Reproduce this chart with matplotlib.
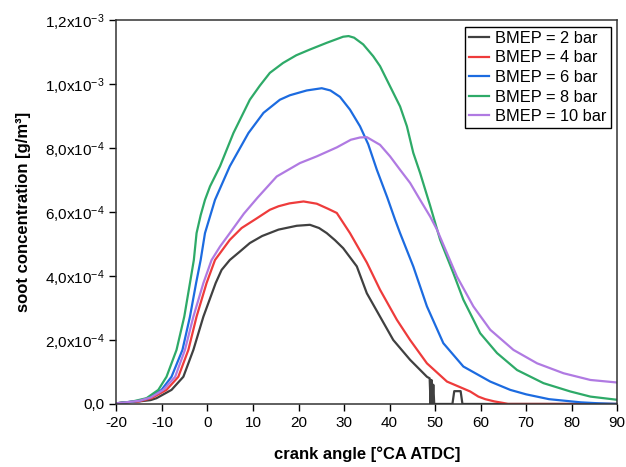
import matplotlib
matplotlib.use('Agg')
import matplotlib.pyplot as plt

plt.rcParams['font.family'] = ['Liberation Sans', 'DejaVu Sans']
plt.rcParams['mathtext.default'] = 'regular'
plt.rcParams['axes.unicode_minus'] = False

# crank angle [deg] and soot [1e-4 g/m3]
x_2 = [-20, -18, -15, -12.5, -11.2, -7.9, -5.3, -3.1, -0.9, 1.8, 3.1, 4.9, 7, 9.3, 12,
       15.6, 19.6, 22.5, 24.5, 26.2, 28, 29.8, 32.8, 35.0, 37.9, 40.8, 44.5, 48.2, 48.8,
       49.0, 49.2, 49.4, 49.6, 49.8, 53.8, 54.2, 55.6, 56.0, 90]
y_2 = [0.02, 0.05, 0.08, 0.12, 0.18, 0.44, 0.85, 1.69, 2.73, 3.78, 4.19, 4.5, 4.75, 5.03, 5.25,
       5.45, 5.57, 5.6, 5.5, 5.34, 5.12, 4.87, 4.3, 3.46, 2.73, 2.0, 1.38, 0.85, 0.8,
       0.0, 0.75, 0.0, 0.6, 0.0, 0.0, 0.4, 0.4, 0.0, 0.0]

x_4 = [-20, -18, -15, -12.3, -9, -6.4, -4.2, -2.4, -0.2, 1.65, 4.9, 7.5, 10.8, 13.7, 15.6,
       18, 21.1, 24, 26.5, 28.4, 31.3, 35, 37.9, 41.6, 44.5, 48.2, 52.6, 57.7, 59.5, 61,
       63, 65, 66, 90]
y_4 = [0.02, 0.05, 0.08, 0.18, 0.44, 0.85, 1.69, 2.73, 3.78, 4.5, 5.13, 5.5, 5.8, 6.07, 6.18,
       6.27, 6.33, 6.26, 6.1, 5.97, 5.34, 4.42, 3.57, 2.63, 2.0, 1.27, 0.70, 0.39, 0.23, 0.15,
       0.08, 0.03, 0.0, 0.0]

x_6 = [-20, -18, -15, -13.1, -10.1, -7.9, -5.5, -3.85, -2.5, -1.5, -0.55, 1.65, 4.9, 9,
       12.3, 15.9, 18.1, 21.8, 25.1, 27, 29.1, 31.3, 33.5, 35.3, 37.2, 39.5, 41.2, 42.3,
       45.2, 48.2, 51.8, 56.2, 62.1, 66.5, 70, 75, 82, 86, 90]
y_6 = [0.02, 0.05, 0.1, 0.18, 0.44, 0.85, 1.69, 2.73, 3.78, 4.5, 5.34, 6.38, 7.43, 8.47,
       9.1, 9.51, 9.65, 9.8, 9.87, 9.8, 9.6, 9.2, 8.68, 8.12, 7.32, 6.45, 5.76, 5.34,
       4.3, 3.05, 1.9, 1.17, 0.70, 0.44, 0.3, 0.15, 0.05, 0.02, 0.0]

x_8 = [-20, -16.7, -13.4, -10.8, -9, -6.8, -5.1, -3.85, -3, -2.4, -1.5, -0.55, 0.55,
       2.75, 5.7, 9.3, 11.5, 13.7, 16.6, 19.5, 22.5, 26.2, 29.8, 31, 32.2, 34.2, 36.4,
       37.9, 40.1, 42.3, 43.8, 45.2, 46.7, 48.9, 51.1, 54, 56.2, 59.9, 63.6, 68, 73.8,
       79.7, 84.1, 90]
y_8 = [0.02, 0.07, 0.18, 0.44, 0.85, 1.69, 2.73, 3.78, 4.5, 5.34, 5.9, 6.38, 6.8,
       7.43, 8.47, 9.51, 9.95, 10.35, 10.66, 10.9, 11.08, 11.29, 11.48, 11.5, 11.45, 11.24, 10.87,
       10.56, 9.93, 9.3, 8.68, 7.85, 7.22, 6.2, 5.13, 4.09, 3.26, 2.21, 1.59, 1.06, 0.65,
       0.39, 0.23, 0.13]

x_10 = [-20, -18, -15, -12.5, -9.7, -7.1, -4.95, -3.1, -0.9, 0.9, 2.75, 4.9, 8, 11,
        15.2, 20.3, 24, 28.4, 31.5, 33.5, 35, 37.9, 40.1, 42.3, 44.5, 46.7, 48.9, 50.4,
        54.8, 58.4, 62.1, 67.2, 72.4, 78.2, 84.1, 90]
y_10 = [0.02, 0.05, 0.1, 0.2, 0.44, 0.85, 1.69, 2.73, 3.78, 4.5, 4.92, 5.34, 5.95, 6.45,
        7.11, 7.53, 7.74, 8.02, 8.26, 8.33, 8.34, 8.1, 7.74, 7.32, 6.91, 6.38, 5.86, 5.45,
        3.98, 3.05, 2.32, 1.69, 1.27, 0.96, 0.75, 0.67]

series = [(x_2, y_2, 'BMEP = 2 bar', '#404040'),
          (x_4, y_4, 'BMEP = 4 bar', '#ee3b3b'),
          (x_6, y_6, 'BMEP = 6 bar', '#1c6be0'),
          (x_8, y_8, 'BMEP = 8 bar', '#2eaa68'),
          (x_10, y_10, 'BMEP = 10 bar', '#b07ae2')]

x_ticks = [-20, -10, 0, 10, 20, 30, 40, 50, 60, 70, 80, 90]
y_ticks = [0, 2e-4, 4e-4, 6e-4, 8e-4, 1e-3, 1.2e-3]
y_ticklabels = ['0,0', '2,0x10$^{-4}$', '4,0x10$^{-4}$', '6,0x10$^{-4}$',
                '8,0x10$^{-4}$', '1,0x10$^{-3}$', '1,2x10$^{-3}$']

fig = plt.figure(figsize=(6.26, 4.67), dpi=100)
ax = fig.add_axes([0.186, 0.135, 0.8, 0.822])

for xs, ys, lab, col in series:
    ax.plot(xs, [v * 1e-4 for v in ys], color=col, lw=1.6, label=lab)

ax.set_xlim(-20, 90)
ax.set_ylim(0, 1.2e-3)
ax.set_xticks(x_ticks)
ax.set_yticks(y_ticks)
ax.set_yticklabels(y_ticklabels)
ax.tick_params(direction='out', length=5, width=1, labelsize=11, colors='black')
for s in ax.spines.values():
    s.set_linewidth(1.1)
    s.set_color('#333333')

ax.set_xlabel('crank angle [°CA ATDC]', fontsize=12, fontweight='bold', labelpad=12)
ax.set_ylabel('soot concentration [g/m³]', fontsize=12, fontweight='bold', labelpad=10)

leg = ax.legend(loc='upper right', fontsize=11.8, fancybox=False, framealpha=1,
                edgecolor='black', handlelength=1.25, handletextpad=0.35,
                labelspacing=0.28, borderpad=0.25, borderaxespad=0.4)
leg.get_frame().set_linewidth(1.0)

fig.savefig('out.png', dpi=100)
